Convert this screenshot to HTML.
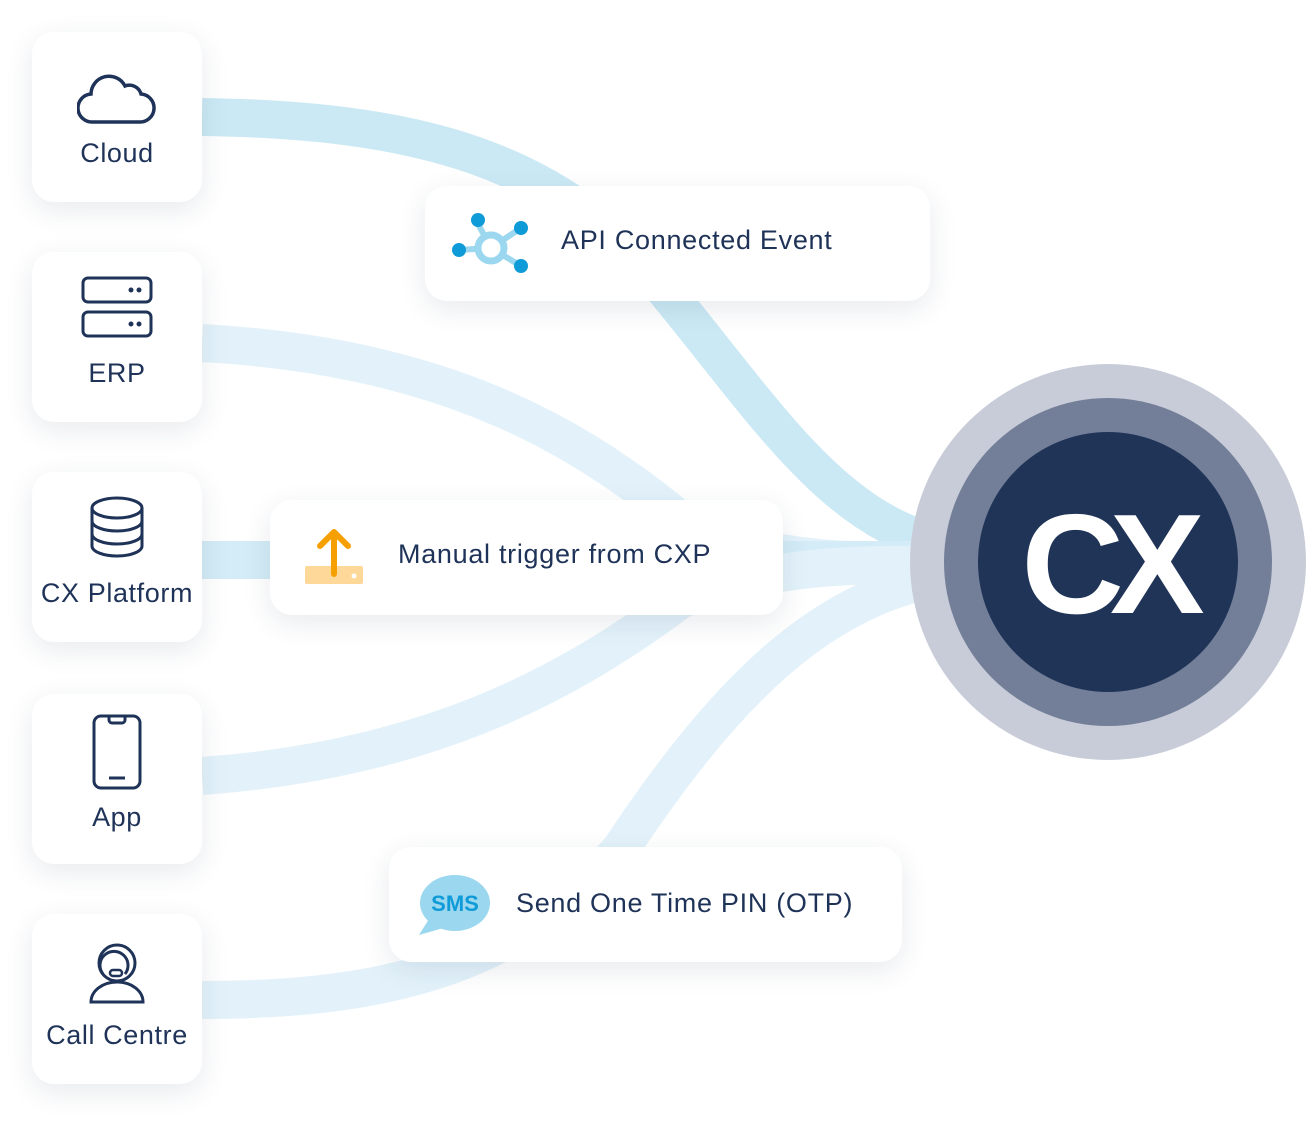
<!DOCTYPE html>
<html><head><meta charset="utf-8"><style>
body{margin:0;width:1308px;height:1140px;background:#fff;position:relative;overflow:hidden;font-family:"Liberation Sans",sans-serif;color:#1f3358}
svg.bg{position:absolute;left:0;top:0}
.card{position:absolute;background:#fff;border-radius:22px;box-shadow:0 8px 28px rgba(30,45,80,0.10)}
.src{left:32px;width:170px;height:170px}
.src .lbl{position:absolute;left:-10px;right:-10px;text-align:center;font-size:27px;letter-spacing:0.6px}
.src svg{position:absolute;left:50%;transform:translateX(-50%)}
.wide .t{position:absolute;font-size:27px;white-space:nowrap;letter-spacing:0.7px}
</style></head><body>
<svg class="bg" width="1308" height="1140">
<g fill="none" stroke-width="38">
<path d="M202 117 C420 120 540 160 640 260 C760 400 830 530 960 548" stroke="#cbe9f5"/>
<path d="M202 343 C420 355 560 420 680 520 C780 570 880 560 960 560" stroke="#e3f2fa"/>
<path d="M202 560 L960 560" stroke="#d3ecf7"/>
<path d="M202 776 C420 760 560 690 680 600 C780 560 880 565 960 565" stroke="#e3f2fa"/>
<path d="M202 1000 C400 1000 520 960 620 850 C720 700 820 590 960 575" stroke="#e3f2fa"/>
</g>
<circle cx="1108" cy="562" r="198" fill="#c8ccd8"/>
<circle cx="1108" cy="562" r="164" fill="#737f98"/>
<circle cx="1108" cy="562" r="130" fill="#203458"/>
<text x="1106" y="613" text-anchor="middle" font-family="Liberation Sans" font-weight="bold" font-size="142" fill="#fff" letter-spacing="-14">CX</text>
</svg>

<div class="card src" style="top:32px">
<svg width="80" height="60" style="top:36px" viewBox="0 0 80 60"><path d="M16 54 H62 a14 14 0 0 0 2-28 a12 12 0 0 0-16-8 a18 18 0 0 0-34 8 a14 14 0 0 0 2 28z" fill="none" stroke="#1f3358" stroke-width="3.5"/></svg>
<div class="lbl" style="top:106px">Cloud</div></div>
<div class="card src" style="top:252px">
<svg width="72" height="62" style="top:24px"><rect x="2" y="2" width="68" height="24" rx="5" fill="none" stroke="#1f3358" stroke-width="3"/><rect x="2" y="36" width="68" height="24" rx="5" fill="none" stroke="#1f3358" stroke-width="3"/><circle cx="50" cy="14" r="2.5" fill="#1f3358"/><circle cx="58" cy="14" r="2.5" fill="#1f3358"/><circle cx="50" cy="48" r="2.5" fill="#1f3358"/><circle cx="58" cy="48" r="2.5" fill="#1f3358"/></svg>
<div class="lbl" style="top:106px">ERP</div></div>
<div class="card src" style="top:472px">
<svg width="56" height="62" style="top:24px"><ellipse cx="28" cy="12" rx="25" ry="10" fill="none" stroke="#1f3358" stroke-width="3"/><path d="M3 12 V50 a25 10 0 0 0 50 0 V12 M3 25 a25 10 0 0 0 50 0 M3 38 a25 10 0 0 0 50 0" fill="none" stroke="#1f3358" stroke-width="3"/></svg>
<div class="lbl" style="top:106px">CX Platform</div></div>
<div class="card src" style="top:694px">
<svg width="50" height="76" style="top:20px"><rect x="2" y="2" width="46" height="72" rx="7" fill="none" stroke="#1f3358" stroke-width="3"/><path d="M17 3 v3 a3 3 0 0 0 3 3 h10 a3 3 0 0 0 3-3 v-3 M17 64 h16" fill="none" stroke="#1f3358" stroke-width="3"/></svg>
<div class="lbl" style="top:108px">App</div></div>
<div class="card src" style="top:914px">
<svg width="58" height="62" style="top:28px"><circle cx="29" cy="21" r="18" fill="none" stroke="#1f3358" stroke-width="3"/><path d="M15 32 a14 14 0 1 1 22 0" fill="none" stroke="#1f3358" stroke-width="3"/><rect x="22" y="28" width="12" height="6" rx="3" fill="none" stroke="#1f3358" stroke-width="2.5"/><path d="M3 60 a26 20 0 0 1 52 0 z" fill="none" stroke="#1f3358" stroke-width="3"/></svg>
<div class="lbl" style="top:106px">Call Centre</div></div>

<div class="card wide" style="left:425px;top:186px;width:505px;height:115px">
<svg width="80" height="64" style="position:absolute;left:26px;top:26px"><g stroke="#9bd7ef" stroke-width="6"><line x1="40" y1="36" x2="26" y2="10"/><line x1="40" y1="36" x2="70" y2="16"/><line x1="40" y1="36" x2="8" y2="38"/><line x1="40" y1="36" x2="70" y2="54"/></g><circle cx="40" cy="36" r="13" fill="#fff" stroke="#9bd7ef" stroke-width="7"/><g fill="#0f9bd8"><circle cx="27" cy="8" r="7"/><circle cx="70" cy="16" r="7"/><circle cx="8" cy="38" r="7"/><circle cx="70" cy="54" r="7"/></g></svg>
<div class="t" style="left:136px;top:39px">API Connected Event</div></div>

<div class="card wide" style="left:270px;top:500px;width:513px;height:115px">
<svg width="60" height="62" style="position:absolute;left:34px;top:26px"><rect x="1" y="40" width="58" height="18" rx="2" fill="#fed899"/><circle cx="50" cy="50" r="2.5" fill="#fff"/><path d="M30 48 V6 M16 20 L30 6 L44 20" fill="none" stroke="#f5a000" stroke-width="6" stroke-linecap="round" stroke-linejoin="round"/></svg>
<div class="t" style="left:128px;top:39px">Manual trigger from CXP</div></div>

<div class="card wide" style="left:389px;top:847px;width:513px;height:115px">
<svg width="74" height="62" style="position:absolute;left:28px;top:26px"><ellipse cx="38" cy="30" rx="35" ry="28" fill="#9bd7ef"/><path d="M12 46 L2 62 L30 54z" fill="#9bd7ef"/><text x="38" y="38" text-anchor="middle" font-family="Liberation Sans" font-weight="bold" font-size="22" fill="#0f9bd8">SMS</text></svg>
<div class="t" style="left:127px;top:41px">Send One Time PIN (OTP)</div></div>
</body></html>
